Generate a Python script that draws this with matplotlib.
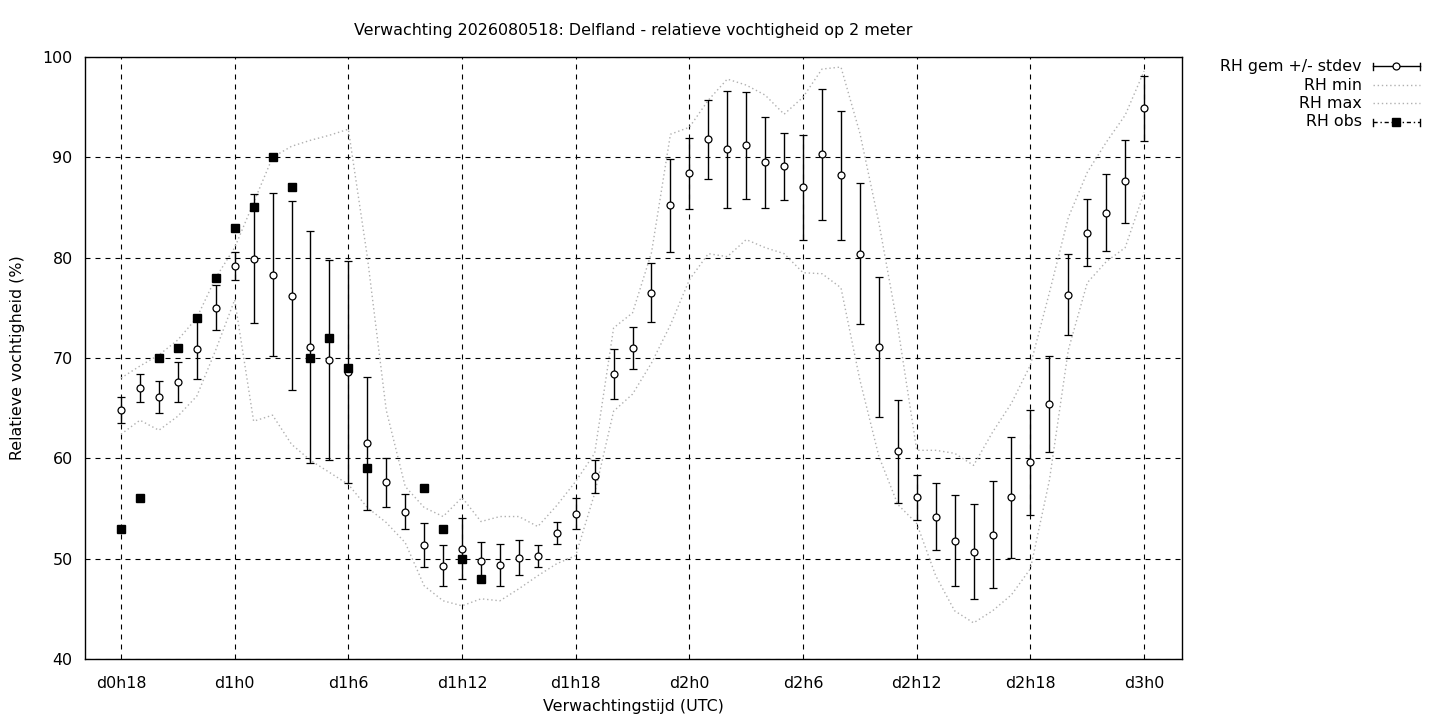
import numpy as np
import matplotlib
matplotlib.use("Agg")
import matplotlib.pyplot as plt
from matplotlib.lines import Line2D

plt.rcParams['font.family'] = ['DejaVu Sans']

# ---------------- data ----------------
hours = list(range(18, 73))
tick_hours = [18, 24, 30, 36, 42, 48, 54, 60, 66, 72]
tick_labels = ["d0h18", "d1h0", "d1h6", "d1h12", "d1h18", "d2h0", "d2h6", "d2h12", "d2h18", "d3h0"]

rh_mean = [64.8, 67.0, 66.1, 67.6, 70.9, 75.0, 79.2, 79.9, 78.3, 76.2,
           71.1, 69.8, 68.6, 61.5, 57.6, 54.7, 51.4, 49.3, 51.0, 49.8,
           49.4, 50.1, 50.3, 52.6, 54.5, 58.2, 68.4, 71.0, 76.5, 85.2,
           88.4, 91.8, 90.8, 91.2, 89.5, 89.1, 87.0, 90.3, 88.2, 80.4,
           71.1, 60.7, 56.1, 54.2, 51.8, 50.7, 52.4, 56.1, 59.6, 65.4,
           76.3, 82.5, 84.5, 87.6, 94.9]
rh_std = [1.3, 1.4, 1.6, 2.0, 3.0, 2.25, 1.4, 6.45, 8.1, 9.4,
          11.6, 10.0, 11.1, 6.6, 2.45, 1.75, 2.2, 2.05, 3.05, 1.85,
          2.1, 1.75, 1.1, 1.1, 1.5, 1.65, 2.5, 2.1, 2.95, 4.6,
          3.55, 3.95, 5.85, 5.35, 4.55, 3.35, 5.25, 6.55, 6.4, 7.05,
          7.0, 5.15, 2.2, 3.35, 4.55, 4.7, 5.3, 6.0, 5.25, 4.8,
          4.05, 3.35, 3.85, 4.1, 3.25]
rh_min = [62.4, 63.8, 62.8, 64.2, 66.2, 70.8, 75.8, 63.7, 64.3, 61.4,
          59.8, 58.6, 57.4, 55.1, 53.6, 51.6, 47.3, 45.8, 45.3, 46.0,
          45.8, 47.0, 48.3, 49.5, 50.3, 56.5, 64.7, 66.4, 69.5, 73.3,
          77.8, 80.4, 80.1, 81.8, 81.0, 80.4, 78.5, 78.4, 77.0, 67.8,
          60.2, 55.4, 53.5, 48.3, 44.8, 43.6, 44.8, 46.4, 49.0, 57.8,
          70.8, 77.5, 79.6, 81.0, 86.5]
rh_max = [68.0, 69.2, 70.3, 71.8, 74.0, 78.0, 81.0, 85.5, 90.0, 91.1,
          91.7, 92.2, 92.8, 80.1, 64.8, 57.2, 55.1, 54.2, 56.1, 53.7,
          54.2, 54.2, 53.2, 55.3, 57.7, 60.5, 73.0, 74.5, 80.5, 92.3,
          93.0, 95.7, 97.8, 97.2, 96.2, 94.3, 96.0, 98.8, 99.0, 92.4,
          83.5, 73.1, 60.8, 60.8, 60.5, 59.3, 62.6, 65.5, 69.3, 76.5,
          84.0, 88.5, 91.5, 94.2, 98.6]
obs_hours = [18, 19, 20, 21, 22, 23, 24, 25, 26, 27, 28, 29, 30, 31, 34, 35, 36, 37]
rh_obs = [53, 56, 70, 71, 74, 78, 83, 85, 90, 87, 70, 72, 69, 59, 57, 53, 50, 48]

title = "Verwachting 2026080518: Delfland - relatieve vochtigheid op 2 meter"
xlabel = "Verwachtingstijd (UTC)"
ylabel = "Relatieve vochtigheid (%)"
legend_labels = ["RH gem +/- stdev", "RH min", "RH max", "RH obs"]

FS = 11.4

# ---------------- figure ----------------
W, H = 1440, 720
fig = plt.figure(figsize=(W / 100, H / 100), dpi=100)
ax = fig.add_axes([85 / W, 1 - 659 / H, 1097 / W, 602 / H])

ax.set_xlim(16.1, 74.0)
ax.set_ylim(40, 100)
ax.set_xticks(tick_hours)
ax.set_xticklabels(tick_labels)
ax.set_yticks(range(40, 101, 10))
ax.tick_params(axis='both', length=0, labelsize=FS, colors='black')
ax.tick_params(axis='x', pad=12)
ax.tick_params(axis='y', pad=9)
for s in ax.spines.values():
    s.set_linewidth(1.0)
    s.set_color('black')

ax.grid(True, color='black', linestyle=(0, (4.5, 4.5)), linewidth=0.8)
ax.set_axisbelow(True)

grey = '#b0b0b0'
ax.plot(hours, rh_min, color=grey, linestyle=(0, (1, 2)), linewidth=1.0, zorder=2)
ax.plot(hours, rh_max, color=grey, linestyle=(0, (1, 2)), linewidth=1.0, zorder=2)

ax.errorbar(hours, rh_mean, yerr=rh_std, fmt='o', color='black', ecolor='black',
            elinewidth=1.0, capsize=3, capthick=1.0, markersize=5,
            markerfacecolor='white', markeredgecolor='black', markeredgewidth=0.9,
            zorder=4)
ax.errorbar(obs_hours, rh_obs, yerr=[0] * len(rh_obs), fmt='s', color='black',
            ecolor='black', elinewidth=1.0, capsize=3, capthick=1.0,
            markersize=5.5, markerfacecolor='black', markeredgecolor='black',
            zorder=5)

ax.set_title(title, fontsize=FS, pad=16)
ax.set_xlabel(xlabel, fontsize=FS)
ax.set_ylabel(ylabel, fontsize=FS)
ax.xaxis.set_label_coords(0.5, -0.067)
ax.yaxis.set_label_coords(-0.055, 0.5)

# ---------------- legend (gnuplot style, text right aligned) ----------------
def fx(px):
    return px / W

def fy(py):
    return 1 - py / H

text_right = 1362
x0, x1, xm = 1373, 1420, 1396
rows = [66, 85, 103, 122]
for lab, ry in zip(legend_labels, rows):
    fig.text(fx(text_right), fy(ry), lab, ha='right', va='center', fontsize=FS)

def caps(ry):
    for xx in (x0, x1):
        fig.add_artist(Line2D([fx(xx), fx(xx)], [fy(ry - 3.5), fy(ry + 3.5)],
                              color='black', linewidth=1.0))

# mean
ry = rows[0]
fig.add_artist(Line2D([fx(x0), fx(x1)], [fy(ry), fy(ry)], color='black', linewidth=1.0))
caps(ry)
fig.add_artist(Line2D([fx(xm)], [fy(ry)], marker='o', markersize=5,
                      markerfacecolor='white', markeredgecolor='black', markeredgewidth=0.9))
# min / max
for ry in rows[1:3]:
    fig.add_artist(Line2D([fx(x0), fx(x1)], [fy(ry), fy(ry)], color=grey,
                          linestyle=(0, (1, 2)), linewidth=1.0))
# obs
ry = rows[3]
fig.add_artist(Line2D([fx(x0), fx(x1)], [fy(ry), fy(ry)], color='black',
                      linestyle=(0, (3, 2, 1, 2)), linewidth=1.0))
caps(ry)
fig.add_artist(Line2D([fx(xm)], [fy(ry)], marker='s', markersize=5.5,
                      markerfacecolor='black', markeredgecolor='black'))

fig.savefig("out.png", dpi=100)
